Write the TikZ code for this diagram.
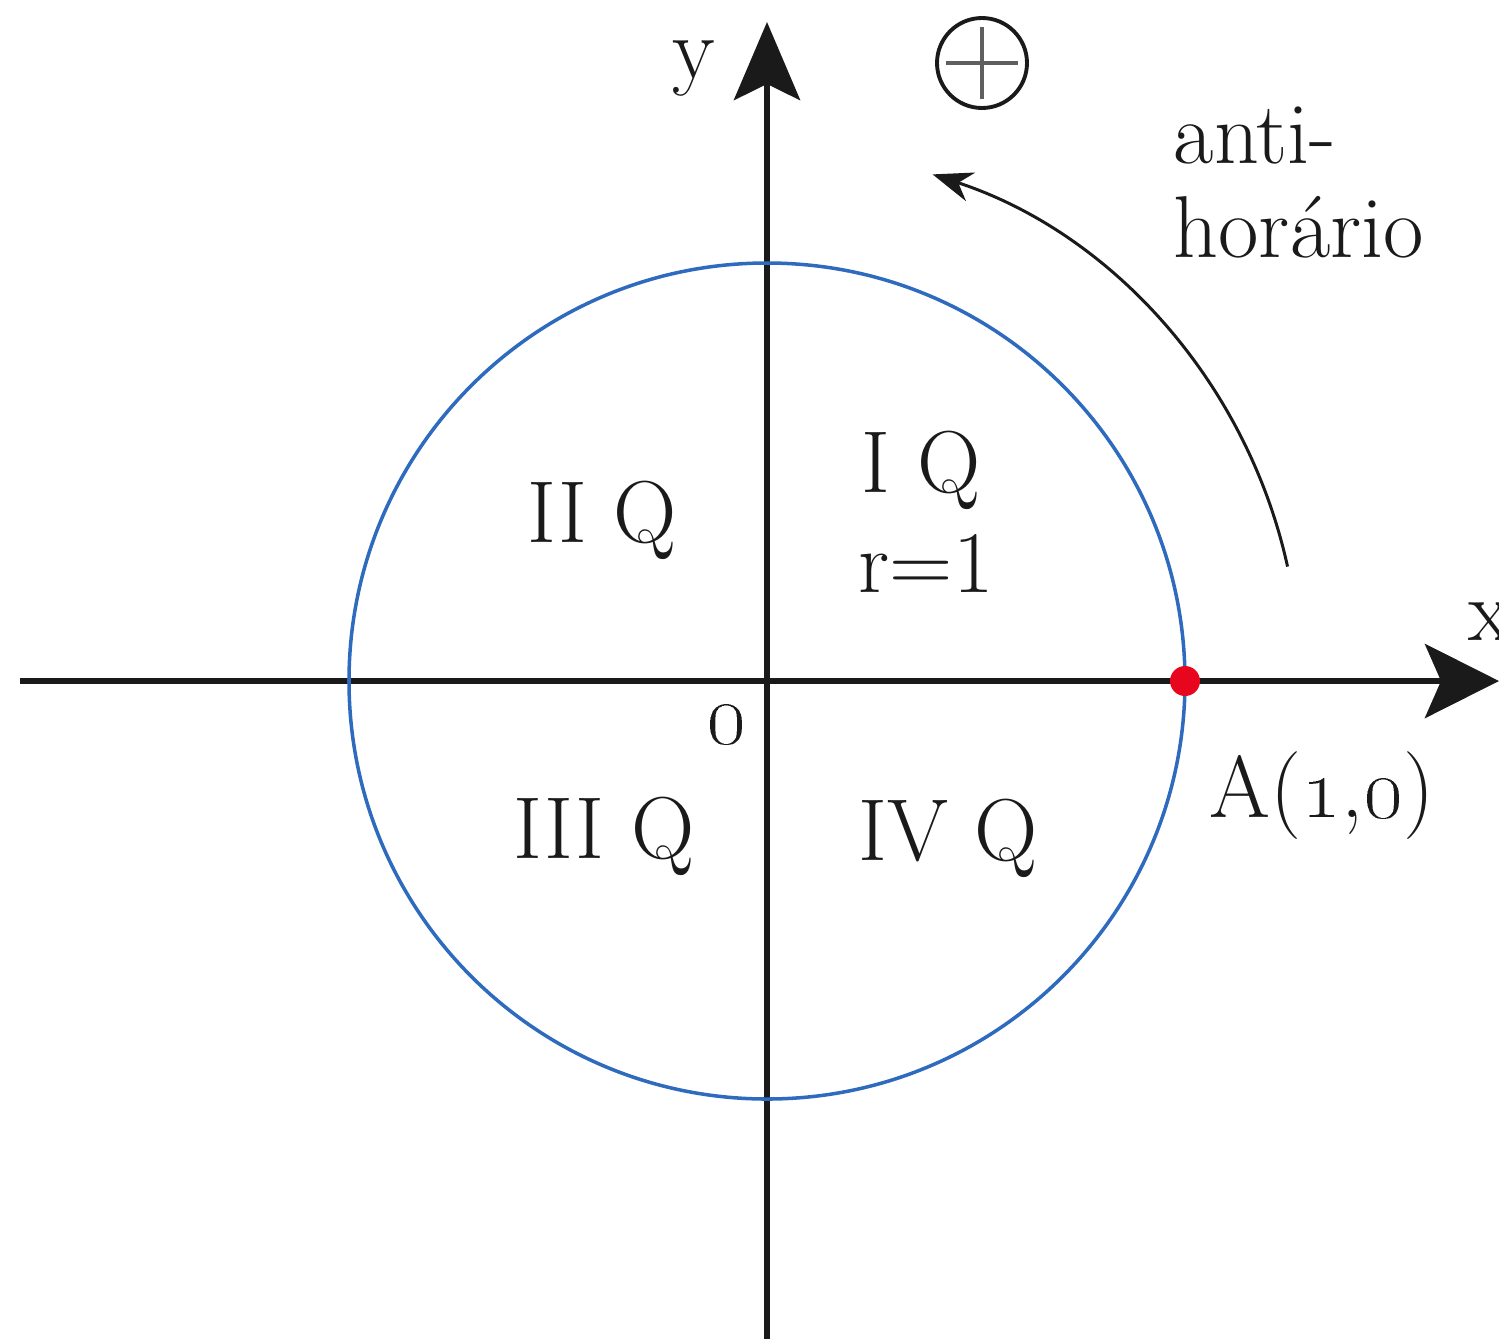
\documentclass[tikz,border=0pt]{standalone}
\usepackage{tikz}
\usetikzlibrary{arrows.meta}
\definecolor{cBlue}{HTML}{2E6BBE}
\definecolor{cRed}{HTML}{E8061E}
\definecolor{cInk}{HTML}{1A1A1A}

\begin{document}
\begin{tikzpicture}[rotulo/.style={font=\fontsize{25}{27}\selectfont, text=cInk, inner sep=0pt, anchor=base}]
\useasboundingbox (-7.67,-6.57) rectangle (7.32,6.81);
% axes
\coordinate (xmin) at (-7.47,0);
\coordinate (xmax) at (7.32,0);
\coordinate (ymin) at (0,-6.62);
\coordinate (ymax) at (0,6.59);
\draw[cInk, line width=1.9pt, -{Stealth[length=0.74cm, width=0.74cm, inset=0.16cm]}] (xmin) -- (xmax);
\draw[cInk, line width=1.9pt, -{Stealth[length=0.78cm, width=0.66cm, inset=0.16cm]}] (ymin) -- (ymax);
\node[rotulo] (xlab) at (7.23,0.41) {x};
\node[rotulo] (ylab) at (-0.73,6.03) {y};
% unit circle
\draw[cBlue, line width=1pt] (0,0) circle[radius=4.18];
\node[circle, fill=cRed, inner sep=0pt, minimum size=0.3cm] (A) at (4.18,0) {};
\node[rotulo] (Alab) at (5.55,-1.36) {A(\oldstylenums{1},\oldstylenums{0})};
\node[rotulo] (O) at (-0.41,-0.62) {\oldstylenums{0}};
% quadrants
\node[rotulo] (q1) at (1.54,1.89) {I Q};
\node[rotulo] (raio) at (1.59,0.89) {r=1};
\node[rotulo] (q2) at (-1.65,1.39) {II Q};
\node[rotulo] (q3) at (-1.63,-1.77) {III Q};
\node[rotulo] (q4) at (1.81,-1.79) {IV Q};
% positive sense
\node[circle, draw=cInk, line width=1.1pt, inner sep=0pt, minimum size=0.9cm] (mais) at (2.15,6.18) {};
\draw[cInk!70, line width=1.3pt] ([xshift=-0.36cm]mais.center) -- ([xshift=0.36cm]mais.center)
  ([yshift=-0.36cm]mais.center) -- ([yshift=0.36cm]mais.center);
\coordinate (inicio) at (12.4:5.33);
\draw[cInk, line width=0.85pt, -{Stealth[length=0.4cm, width=0.3cm]}] (inicio) arc[start angle=12.4, end angle=71.9, radius=5.33];
\node[rotulo, anchor=base west] (anti) at (4.06,5.18) {anti-};
\node[rotulo, anchor=base west] (horario) at (4.06,4.24) {horário};
\end{tikzpicture}
\end{document}
